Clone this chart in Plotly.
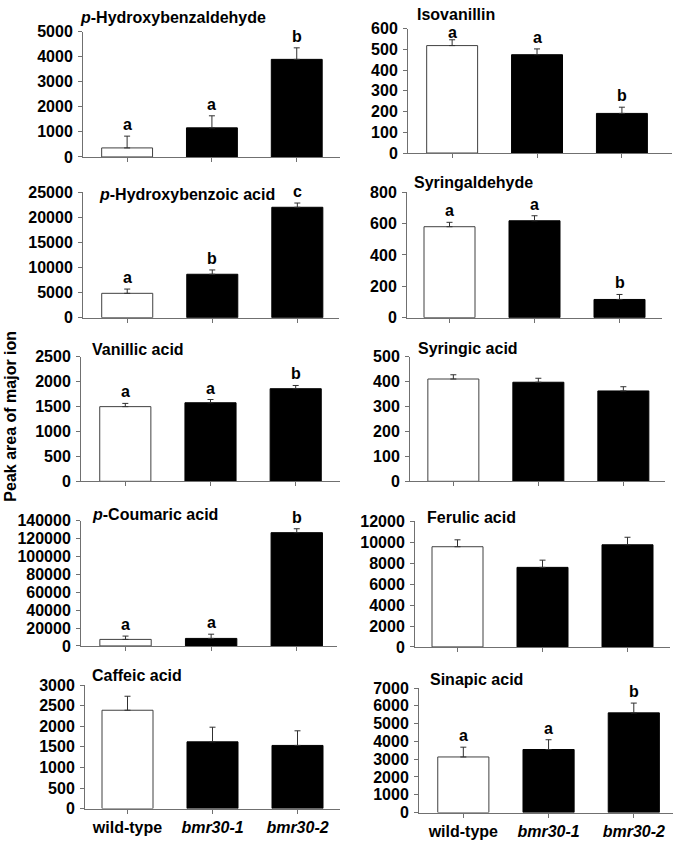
import plotly.graph_objects as go

# ---------------- data ----------------
groups = ["wild-type", "<i>bmr30-1</i>", "<i>bmr30-2</i>"]
group_pos = [0, 1, 2]

titles = [
    "<i>p</i>-Hydroxybenzaldehyde", "Isovanillin",
    "<i>p</i>-Hydroxybenzoic acid", "Syringaldehyde",
    "Vanillic acid", "Syringic acid",
    "<i>p</i>-Coumaric acid", "Ferulic acid",
    "Caffeic acid", "Sinapic acid",
]

hydroxybenzaldehyde_mean = [360, 1160, 3890]
hydroxybenzaldehyde_err = [470, 480, 460]
isovanillin_mean = [518, 474, 191]
isovanillin_err = [28, 28, 30]
hydroxybenzoic_mean = [4850, 8650, 22000]
hydroxybenzoic_err = [850, 860, 850]
syringaldehyde_mean = [580, 618, 116]
syringaldehyde_err = [28, 32, 32]
vanillic_mean = [1500, 1578, 1860]
vanillic_err = [65, 65, 65]
syringic_mean = [411, 398, 363]
syringic_err = [17, 16, 17]
coumaric_mean = [7300, 8400, 126400]
coumaric_err = [3700, 4700, 4400]
ferulic_mean = [9585, 7610, 9770]
ferulic_err = [660, 690, 720]
caffeic_mean = [2390, 1622, 1535]
caffeic_err = [340, 356, 355]
sinapic_mean = [3125, 3545, 5605]
sinapic_err = [550, 550, 550]

means = [hydroxybenzaldehyde_mean, isovanillin_mean, hydroxybenzoic_mean,
         syringaldehyde_mean, vanillic_mean, syringic_mean, coumaric_mean,
         ferulic_mean, caffeic_mean, sinapic_mean]
errs = [hydroxybenzaldehyde_err, isovanillin_err, hydroxybenzoic_err,
        syringaldehyde_err, vanillic_err, syringic_err, coumaric_err,
        ferulic_err, caffeic_err, sinapic_err]

letters = [
    ["a", "a", "b"], ["a", "a", "b"],
    ["a", "b", "c"], ["a", "a", "b"],
    ["a", "a", "b"], None,
    ["a", "a", "b"], None,
    None, ["a", "a", "b"],
]

y_max = [5000, 600, 25000, 800, 2500, 500, 140000, 12000, 3000, 7000]
y_dtick = [1000, 100, 5000, 200, 500, 100, 20000, 2000, 500, 1000]

# ---------------- layout geometry (pixels) ----------------
W, H = 677, 847
# (x_left, x_right, y_top, y_bottom)
boxes = [
    (83, 340, 24, 152), (408, 672, 21, 148),
    (83, 339, 188, 316), (407, 662, 188, 316),
    (81, 340, 356, 483), (410, 665, 356, 483),
    (81, 337, 523, 651), (415, 670, 524, 652),
    (85, 340, 691, 817), (419, 673, 694, 821),
]
x_ranges = [
    [-0.52, 2.51], [-0.52, 2.59],
    [-0.52, 2.49], [-0.5, 2.5],
    [-0.52, 2.52], [-0.51, 2.49],
    [-0.52, 2.47], [-0.5, 2.5],
    [-0.5, 2.5], [-0.52, 2.46],
]
title_pos = [
    (78, 10), (415, 7), (97, 190), (412, 178), (90, 348),
    (416, 347), (90, 517), (425, 520), (90, 681), (428, 685),
]

FONT = "Liberation Sans, Arial, sans-serif"
AXCOL = "#707070"

fig = go.Figure()
annotations = []
layout = {}

for i in range(10):
    n = "" if i == 0 else str(i + 1)
    xl, xr, yt, yb = boxes[i]
    colors = ["white", "black", "black"]
    fig.add_trace(go.Bar(
        x=group_pos, y=means[i], width=0.6,
        marker=dict(color=colors, line=dict(color=["#404040", "black", "black"], width=1)),
        error_y=dict(type="data", array=errs[i], arrayminus=[0, 0, 0], symmetric=False,
                     color="#303030", thickness=1, width=3),
        xaxis="x" + n, yaxis="y" + n, showlegend=False,
    ))
    bottom = (i >= 8)
    layout["xaxis" + n] = dict(
        domain=[xl / W, xr / W], anchor="y" + n, range=x_ranges[i],
        showline=True, linecolor=AXCOL, linewidth=1, showgrid=False, zeroline=False,
        ticks="outside", ticklen=4, tickcolor=AXCOL, tickwidth=1,
        tickvals=group_pos, ticktext=groups, showticklabels=bottom,
        tickfont=dict(family=FONT, size=16, color="black", weight="bold"),
        fixedrange=True,
    )
    layout["yaxis" + n] = dict(
        domain=[1 - yb / H, 1 - yt / H], anchor="x" + n, range=[0, y_max[i]],
        dtick=y_dtick[i], tick0=0, tickformat="d",
        showline=True, linecolor=AXCOL, linewidth=1, showgrid=False, zeroline=False,
        ticks="outside", ticklen=4, tickcolor=AXCOL, tickwidth=1,
        tickfont=dict(family=FONT, size=16, color="black", weight="bold"),
        ticklabelstandoff=2,
        fixedrange=True,
    )
    tx, ty = title_pos[i]
    annotations.append(dict(
        text=titles[i], xref="paper", yref="paper", x=tx / W, y=1 - ty / H,
        xanchor="left", yanchor="middle", showarrow=False,
        font=dict(family=FONT, size=16, color="black", weight="bold"),
    ))
    if letters[i]:
        for j in range(3):
            shift = -2 if (i == 1 and j == 0) else 2
            annotations.append(dict(
                text=letters[i][j], xref="x" + n, yref="y" + n,
                x=group_pos[j], y=means[i][j] + errs[i][j],
                xanchor="center", yanchor="bottom", yshift=shift, showarrow=False,
                borderpad=0,
                font=dict(family=FONT, size=16, color="black", weight="bold"),
            ))

annotations.append(dict(
    text="Peak area of major ion", xref="paper", yref="paper",
    x=11 / W, y=1 - 417 / H, xanchor="center", yanchor="middle",
    textangle=-90, showarrow=False,
    font=dict(family=FONT, size=16, color="black", weight="bold"),
))

fig.update_layout(
    width=W, height=H, margin=dict(l=0, r=0, t=0, b=0),
    paper_bgcolor="white", plot_bgcolor="white",
    annotations=annotations, **layout,
)

fig.write_html(
    "out.html",
    config={"displayModeBar": False},
    post_script="document.body.style.margin='0';document.body.style.padding='0';"
                "document.body.style.overflow='hidden';",
)
